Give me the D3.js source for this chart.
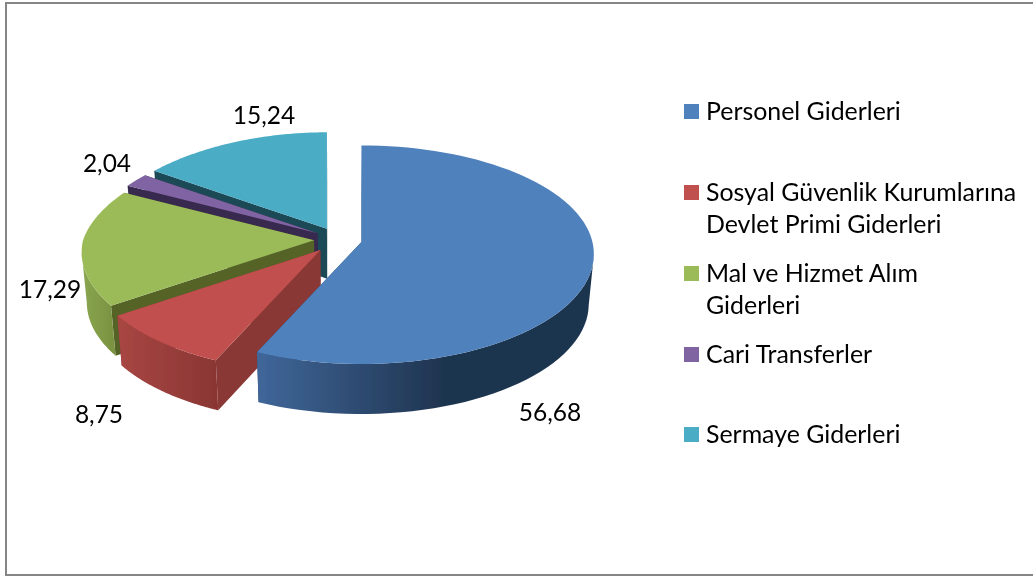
<!DOCTYPE html>
<html>
<head>
<meta charset="utf-8">
<script src="https://cdn.jsdelivr.net/npm/d3@7"></script>
<style>
  html, body { margin: 0; padding: 0; background: #fff; overflow: hidden; }
  svg { display: block; }
  text { font-family: Lato, "Open Sans", sans-serif; fill: #000; }
</style>
</head>
<body>
<svg id="Vis" width="1033" height="576"></svg>
<script>
/*
* DATA
*/
const categories = [
  "Personel Giderleri",
  "Sosyal Güvenlik Kurumlarına Devlet Primi Giderleri",
  "Mal ve Hizmet Alım Giderleri",
  "Cari Transferler",
  "Sermaye Giderleri"
];
const values = [56.68, 8.75, 17.29, 2.04, 15.24];
const valueLabels = ["56,68", "8,75", "17,29", "2,04", "15,24"];

/*
* STYLE AND LAYOUT
*/
const topColors = ["#4f81bd", "#c0504d", "#9bbb59", "#8064a2", "#4bacc6"];
const faceColors = ["#2a466b", "#8a3735", "#546428", "#38294f", "#1d4a57"];
// outer wall gradient, left to right
const wallStops = [
  ["#40679a", "#1f3450"],
  ["#a84643", "#8a3633"],
  ["#8aa64f", "#7b9443"],
  ["#5f4a7d", "#4a3a63"],
  ["#2f7f94", "#256b7d"]
];
const explodeFactor = [1, 1.15, 1, 1, 1];
const labelPos = [[550, 421], [99, 423], [50, 298], [107, 172], [264, 124]];
const legendRows = [
  {y: 112, lines: ["Personel Giderleri"]},
  {y: 193, lines: ["Sosyal Güvenlik Kurumlarına", "Devlet Primi Giderleri"]},
  {y: 274, lines: ["Mal ve Hizmet Alım", "Giderleri"]},
  {y: 355, lines: ["Cari Transferler"]},
  {y: 435, lines: ["Sermaye Giderleri"]}
];

const svg = d3.select("svg#Vis");

/* Projection of the pie disc: perspective tilt, u to the right, v towards viewer */
const center = {x: 338, y: 239.5};
const rx = 231, ry = 108.7, persp = 0.109;
const explodeX = 24, explodeY = 12;
const depth = 50, bottomShrink = 0.98;

function project(u, v) {
  const s = 1 / (1 - persp * v);
  // back of the disc reads a bit narrower and flatter
  const backX = (v < 0 && u < 0) ? 1 + 0.05 * v : 1;
  const backY = v < 0 ? 0.985 : 1;
  return [rx * u * s * backX, ry * v * s * backY];
}

// angle from the top, clockwise
function discPoint(a) {
  return project(Math.sin(a), -Math.cos(a));
}

function sliceGeometry(d, i) {
  const mid = (d.startAngle + d.endAngle) / 2;
  return {
    ax: center.x + Math.sin(mid) * explodeX * explodeFactor[i],
    ay: center.y - Math.cos(mid) * explodeY * explodeFactor[i]
  };
}

function topPoint(g, a) {
  const p = discPoint(a);
  return [g.ax + p[0], g.ay + p[1]];
}

function lowerPoint(pt) {
  return [center.x + (pt[0] - center.x) * bottomShrink, pt[1] + depth];
}

const line = d3.line();
const pie = d3.pie().sort(null).value(d => d);
const arcs = pie(values);

const defs = svg.append("defs");
const blur = defs.append("filter").attr("id", "soft");
blur.append("feGaussianBlur").attr("stdDeviation", 0.45);
const blurText = defs.append("filter").attr("id", "softText");
blurText.append("feGaussianBlur").attr("stdDeviation", 0.3);

/*
* FRAME
*/
svg.append("rect")
  .attr("x", 6).attr("y", 3)
  .attr("width", 1040).attr("height", 572)
  .attr("fill", "#fff")
  .attr("stroke", "#868686")
  .attr("stroke-width", 2);

/*
* PIE, drawn back to front
*/
const chart = svg.append("g").attr("filter", "url(#soft)");
const paintOrder = [4, 3, 2, 1, 0];

// wall is only seen on the front part of the disc
const wallFrom = Math.PI / 2 + Math.asin(persp);
const wallTo = 2 * Math.PI - wallFrom;

paintOrder.forEach(i => {
  const d = arcs[i];
  const g = sliceGeometry(d, i);
  const apex = [g.ax, g.ay];
  const sl = chart.append("g").attr("class", "slice");

  const angles = d3.range(0, 81).map(k => d.startAngle + (d.endAngle - d.startAngle) * k / 80);

  /* Flat cut faces */
  [d.startAngle, d.endAngle].forEach(a => {
    const c = topPoint(g, a);
    sl.append("path")
      .attr("d", line([apex, c, lowerPoint(c), lowerPoint(apex)]) + "Z")
      .attr("fill", faceColors[i]);
  });

  /* Outer wall */
  const wallAngles = angles.filter(a => a >= wallFrom && a <= wallTo);
  if (wallAngles.length > 1) {
    const upper = wallAngles.map(a => topPoint(g, a));
    const under = upper.map(lowerPoint).reverse();
    const xs = upper.map(p => p[0]);
    const gradId = "wall" + i;
    const grad = defs.append("linearGradient")
      .attr("id", gradId)
      .attr("gradientUnits", "userSpaceOnUse")
      .attr("x1", d3.min(xs)).attr("x2", d3.max(xs))
      .attr("y1", 0).attr("y2", 0);
    grad.append("stop").attr("offset", 0).attr("stop-color", wallStops[i][0]);
    grad.append("stop").attr("offset", i === 0 ? 0.55 : 1).attr("stop-color", wallStops[i][1]);
    sl.append("path")
      .attr("d", line(upper.concat(under)) + "Z")
      .attr("fill", "url(#" + gradId + ")");
  }

  /* Top surface */
  sl.append("path")
    .attr("d", line([apex].concat(angles.map(a => topPoint(g, a)))) + "Z")
    .attr("fill", topColors[i]);
});

/*
* VALUE LABELS
*/
svg.append("g").attr("filter", "url(#softText)").selectAll("text")
  .data(valueLabels)
  .join("text")
  .attr("x", (d, i) => labelPos[i][0])
  .attr("y", (d, i) => labelPos[i][1])
  .attr("text-anchor", "middle")
  .style("font-size", "24.5px")
  .text(d => d);

/*
* LEGEND
*/
const legend = svg.append("g").attr("id", "legend");
const legendText = legend.append("g").attr("filter", "url(#softText)");
legendRows.forEach((row, i) => {
  legend.append("rect")
    .attr("x", 684).attr("y", row.y - 8)
    .attr("width", 15).attr("height", 15)
    .attr("fill", topColors[i]);
  row.lines.forEach((t, j) => {
    legendText.append("text")
      .attr("x", 706)
      .attr("y", row.y + 8 + j * 32)
      .style("font-size", "24.9px")
      .text(t);
  });
});
</script>
</body>
</html>
